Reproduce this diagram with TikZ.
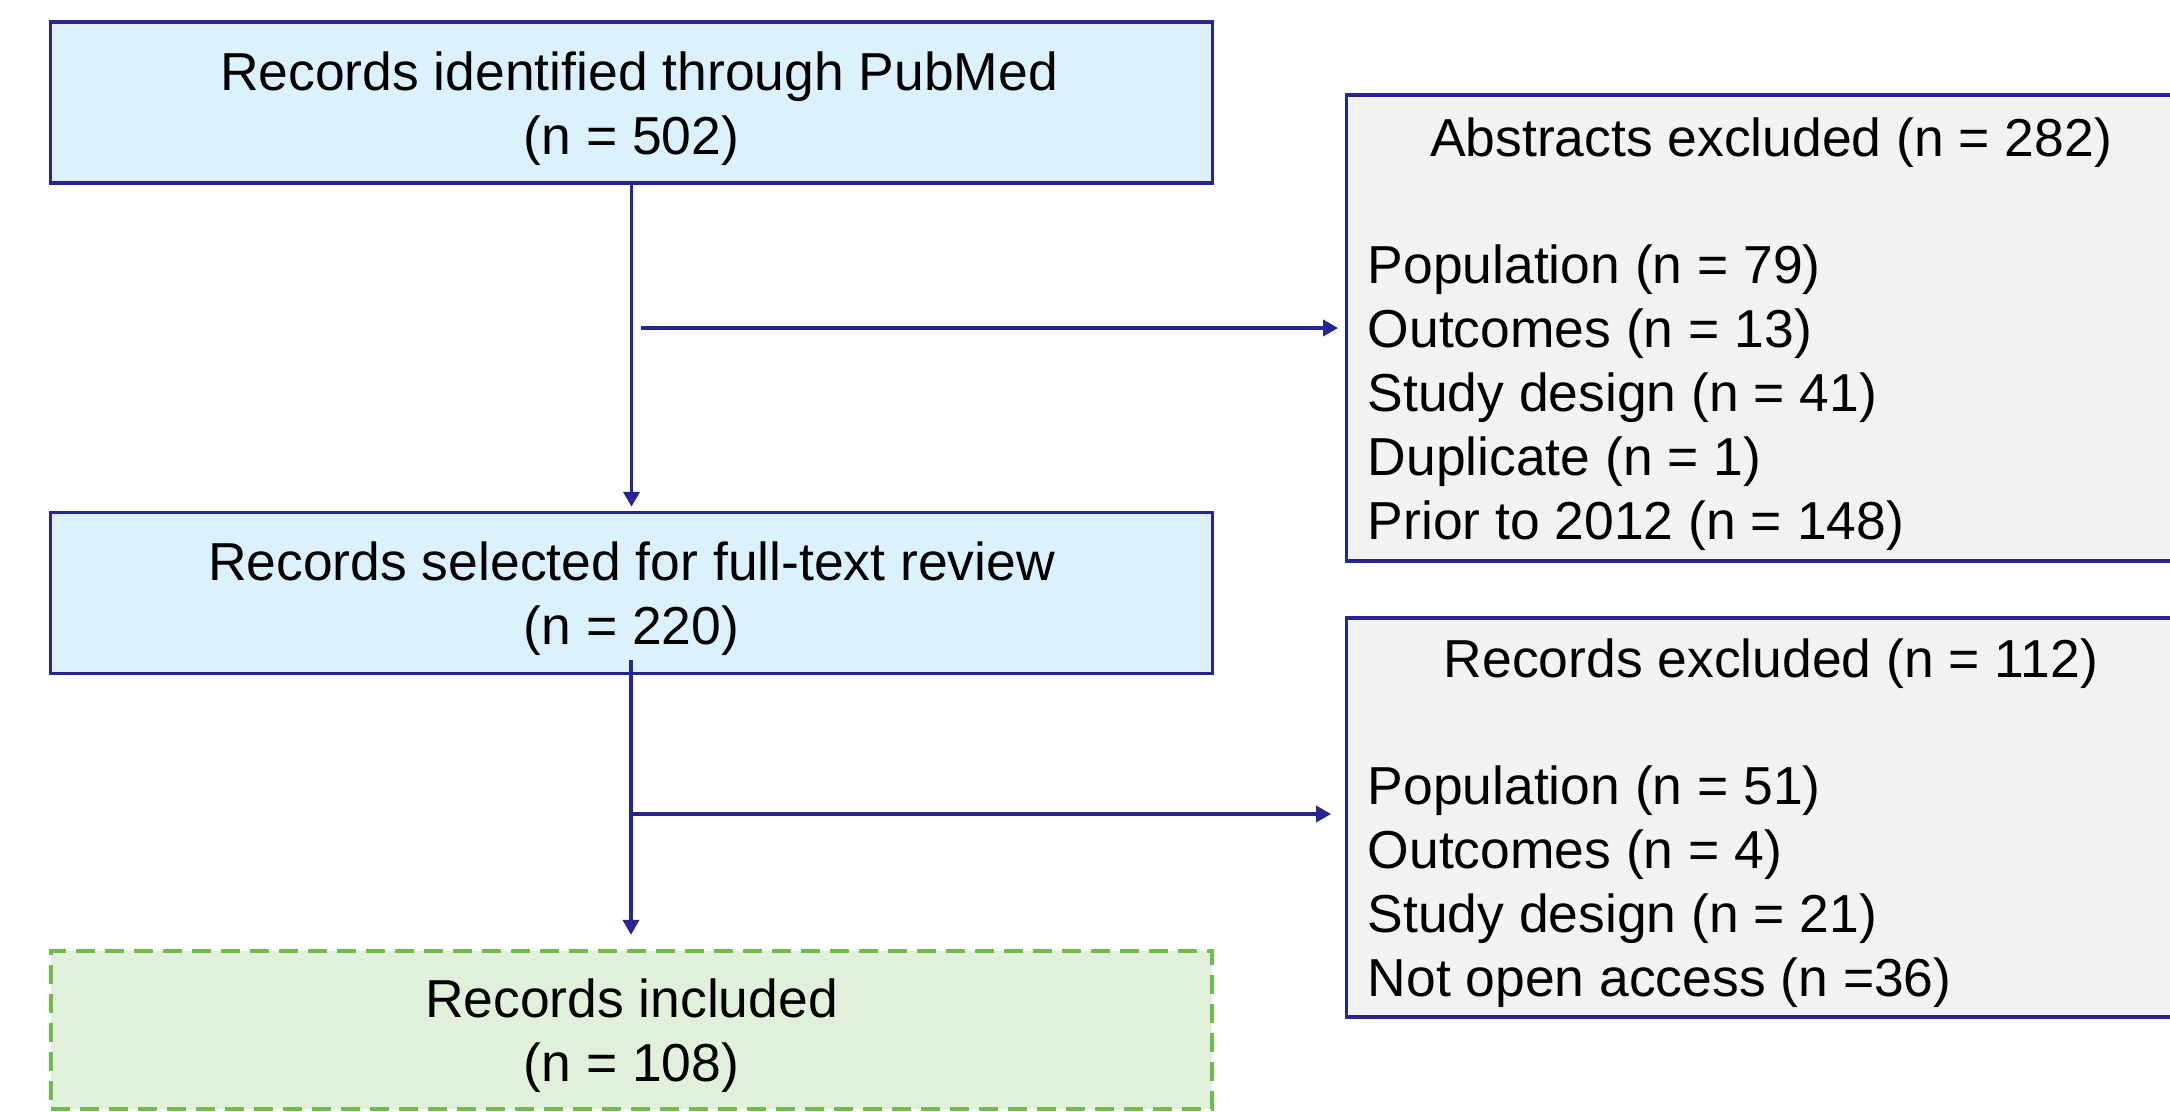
\documentclass[tikz,border=0pt]{standalone}
\usepackage{fontspec}
\setmainfont{Liberation Sans}
\usetikzlibrary{arrows.meta}
\definecolor{flowblue}{RGB}{40,36,150}
\definecolor{stagefill}{RGB}{219,242,252}
\definecolor{exclfill}{RGB}{242,242,242}
\definecolor{inclfill}{RGB}{224,240,218}
\definecolor{incldraw}{RGB}{108,190,69}
\begin{document}
\begin{tikzpicture}[x=0.01cm,y=-0.01cm,
  font=\fontsize{15.2pt}{18.2pt}\selectfont,
  stage/.style={draw=flowblue,line width=0.95pt,fill=stagefill,minimum width=11.61cm,minimum height=1.61cm,inner sep=0pt},
  exclbox/.style={draw=flowblue,line width=0.95pt,fill=exclfill,minimum width=8.48cm,inner sep=0pt},
  inclbox/.style={draw=incldraw,line width=1.2pt,dash pattern=on 0.19cm off 0.1cm,fill=inclfill,minimum width=11.61cm,minimum height=1.58cm,inner sep=0pt},
  txt/.style={inner sep=0pt},
  flow/.style={draw=flowblue,line width=1.1pt,-{Triangle[length=0.15cm,width=0.16cm]}}]
\clip (0,0) rectangle (2170,1111);
\node[stage] (ident) at (631.5,102.5) {};
\node[txt,anchor=base] (identhead) at (639,90) {Records identified through PubMed};
\node[txt,anchor=base] (identn) at (631.5,154) {(n = 502)};
\node[stage] (select) at (631.5,593) {};
\node[txt,anchor=base] (selecthead) at (631.5,580.5) {Records selected for full-text review};
\node[txt,anchor=base] (selectn) at (631.5,644.5) {(n = 220)};
\node[inclbox] (incl) at (631.5,1030) {};
\node[txt,anchor=base] (inclhead) at (631.5,1017.5) {Records included};
\node[txt,anchor=base] (incln) at (631.5,1081.5) {(n = 108)};
\node[exclbox,minimum height=4.66cm] (abstr) at (1771,328) {};
\node[txt,anchor=base] (abstrhead) at (1771,156) {Abstracts excluded (n = 282)};
\foreach \reason [count=\i] in {Population (n = 79),Outcomes (n = 13),Study design (n = 41),Duplicate (n = 1),Prior to 2012 (n = 148)}
  \node[txt,anchor=base west] (abstr\i) at (1367,219+64*\i) {\reason};
\node[exclbox,minimum height=3.99cm] (recex) at (1771,817.5) {};
\node[txt,anchor=base] (recexhead) at (1771,677) {Records excluded (n = 112)};
\foreach \reason [count=\i] in {Population (n = 51),Outcomes (n = 4),Study design (n = 21),Not open access (n =36)}
  \node[txt,anchor=base west] (recex\i) at (1367,740+64*\i) {\reason};
\coordinate (splitA) at (641,328);
\coordinate (splitB) at (631,660);
\coordinate (splitC) at (631,814);
\draw[flow,shorten >=0.04cm] (ident) -- (select);
\draw[flow,shorten >=0.07cm] (splitA) -- (abstr.west);
\draw[flow,shorten >=0.14cm] (splitB) -- (splitB |- incl.north);
\draw[flow,shorten >=0.14cm] (splitC) -- (splitC -| recex.west);
\end{tikzpicture}
\end{document}
